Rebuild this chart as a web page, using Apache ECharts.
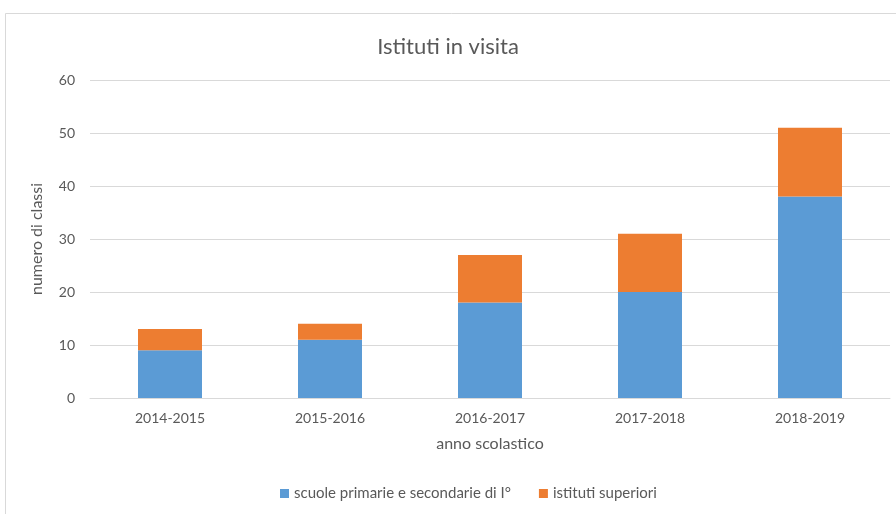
<!DOCTYPE html>
<html>
<head>
<meta charset="utf-8">
<script src="https://cdn.jsdelivr.net/npm/echarts@6/dist/echarts.min.js"></script>
<style>
html,body{margin:0;padding:0;background:#fff;}
#chart{width:896px;height:514px;}
</style>
</head>
<body>
<div id="chart"></div>
<script>
// dati
var anni = ['2014-2015', '2015-2016', '2016-2017', '2017-2018', '2018-2019'];
var primarie = [9, 11, 18, 20, 38];
var superiori = [4, 3, 9, 11, 13];
var yTicks = [0, 10, 20, 30, 40, 50, 60];

var grigio = '#595959';
var font = 'Lato, "Open Sans", sans-serif';

var mychart = echarts.init(document.getElementById('chart'));
var option = {
	backgroundColor: '#fff',
	textStyle: {fontFamily: font},
	animation: false,
	graphic: [{
		type: 'rect',
		shape: {x: 5.5, y: 13.5, width: 900, height: 520},
		style: {fill: 'none', stroke: '#d9d9d9', lineWidth: 1},
		z: -1
	}],
	title: {
		text: 'Istituti in visita',
		left: 'center',
		top: 31,
		textStyle: {color: grigio, fontSize: 22, fontWeight: 'normal', fontFamily: font}
	},
	legend: {
		bottom: 8,
		left: 275,
		itemWidth: 9,
		itemHeight: 9,
		itemGap: 28,
		icon: 'rect',
		textStyle: {color: grigio, fontSize: 15, fontFamily: font},
		data: ['scuole primarie e secondarie di I°', 'istituti superiori']
	},
	grid: {left: 90, right: 6, top: 80, bottom: 116},
	xAxis: {
		type: 'category',
		data: anni,
		name: 'anno scolastico',
		nameLocation: 'middle',
		nameGap: 38,
		nameTextStyle: {color: grigio, fontSize: 16},
		axisLine: {lineStyle: {color: '#d9d9d9'}},
		axisTick: {show: false},
		axisLabel: {color: grigio, fontSize: 14, margin: 13}
	},
	yAxis: {
		type: 'value',
		min: yTicks[0],
		max: yTicks[yTicks.length - 1],
		interval: 10,
		name: 'numero di classi',
		nameLocation: 'middle',
		nameGap: 45,
		nameTextStyle: {color: grigio, fontSize: 16},
		axisLine: {show: false},
		axisTick: {show: false},
		axisLabel: {color: grigio, fontSize: 14, margin: 15},
		splitLine: {lineStyle: {color: '#d9d9d9'}}
	},
	series: [{
		name: 'scuole primarie e secondarie di I°',
		type: 'bar',
		stack: 'tot',
		barWidth: '40%',
		data: primarie,
		itemStyle: {color: '#5b9bd5'}
	}, {
		name: 'istituti superiori',
		type: 'bar',
		stack: 'tot',
		barWidth: '40%',
		data: superiori,
		itemStyle: {color: '#ed7d31'}
	}]
};
mychart.setOption(option);
</script>
</body>
</html>
